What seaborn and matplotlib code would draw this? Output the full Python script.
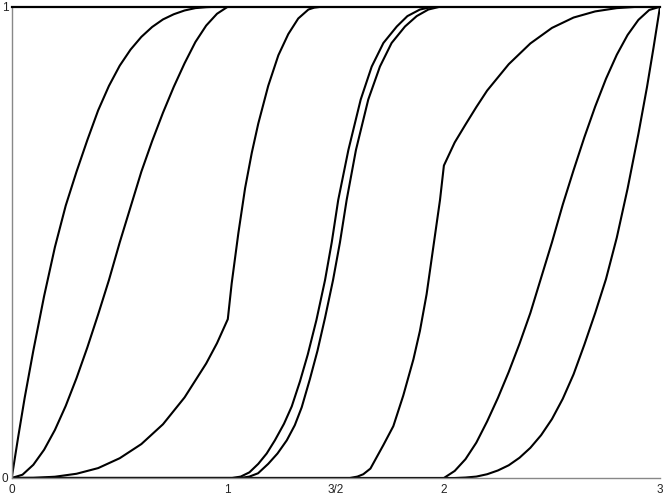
import pandas as pd
import seaborn as sns
import matplotlib.pyplot as plt


# Curves (x in [0, 3], y in [0, 1])
a_x = [0, 0.03, 0.06, 0.1, 0.15, 0.2, 0.25, 0.3, 0.35, 0.4, 0.45, 0.5, 0.55, 0.6, 0.65, 0.7,
       0.75, 0.8, 0.85, 0.9, 0.95, 1.0, 3.0]
a_y = [0, 0.087, 0.17, 0.27, 0.386, 0.49, 0.578, 0.65, 0.717, 0.78, 0.832, 0.875, 0.909, 0.936, 0.957, 0.973,
       0.984, 0.992, 0.997, 0.999, 1.0, 1.0, 1.0]

b_x = [0, 0.05, 0.1, 0.15, 0.2, 0.25, 0.3, 0.35, 0.4, 0.45, 0.5, 0.55, 0.6, 0.65, 0.7, 0.75,
       0.8, 0.85, 0.9, 0.95, 1.0, 3.0]
b_y = [0, 0.007, 0.028, 0.06, 0.102, 0.153, 0.212, 0.277, 0.347, 0.42, 0.5, 0.575, 0.65, 0.715, 0.775, 0.83,
       0.88, 0.925, 0.96, 0.985, 1.0, 1.0]

c_x = [0, 0.1, 0.2, 0.3, 0.4, 0.5, 0.6, 0.7, 0.8, 0.9, 0.95, 1.0, 1.018, 1.049, 1.08, 1.111, 1.141,
       1.187, 1.234, 1.28, 1.326, 1.373, 1.4, 1.435, 3.0]
c_y = [0, 0.0003, 0.0027, 0.009, 0.021, 0.042, 0.072, 0.114, 0.171, 0.243, 0.286, 0.337, 0.413, 0.52, 0.615,
       0.69, 0.752, 0.832, 0.897, 0.942, 0.975, 0.994, 0.998, 1.0, 1.0]

d_x = [0, 1.02, 1.06, 1.1, 1.141, 1.18, 1.218, 1.26, 1.296, 1.334, 1.37, 1.41, 1.45, 1.481, 1.511,
       1.558, 1.615, 1.666, 1.72, 1.782, 1.831, 1.889, 1.95, 3.0]
d_y = [0, 0, 0.003, 0.012, 0.03, 0.052, 0.08, 0.115, 0.152, 0.205, 0.262, 0.335, 0.42, 0.5, 0.59,
       0.696, 0.803, 0.873, 0.923, 0.958, 0.98, 0.994, 1.0, 1.0]

e_x = [0, 1.06, 1.1, 1.14, 1.187, 1.23, 1.273, 1.31, 1.342, 1.38, 1.415, 1.45, 1.487, 1.519, 1.55,
       1.593, 1.65, 1.704, 1.758, 1.82, 1.874, 1.928, 1.982, 3.0]
e_y = [0, 0, 0.003, 0.01, 0.03, 0.052, 0.08, 0.112, 0.15, 0.21, 0.27, 0.34, 0.42, 0.5, 0.59,
       0.696, 0.803, 0.873, 0.923, 0.958, 0.98, 0.994, 1.0, 1.0]

f_x = [0, 1.565, 1.6, 1.627, 1.66, 1.69, 1.72, 1.766, 1.812, 1.859, 1.889, 1.92, 1.951, 1.982, 2.0,
       2.05, 2.1, 2.15, 2.2, 2.3, 2.4, 2.5, 2.6, 2.7, 2.8, 2.9, 3.0]
f_y = [0, 0, 0.003, 0.008, 0.02, 0.045, 0.07, 0.11, 0.175, 0.252, 0.312, 0.39, 0.49, 0.59, 0.663,
       0.712, 0.75, 0.787, 0.822, 0.878, 0.922, 0.955, 0.977, 0.99, 0.997, 1.0, 1.0]

g_x = [0, 2.0, 2.05, 2.1, 2.15, 2.2, 2.25, 2.3, 2.35, 2.4, 2.45, 2.5, 2.55, 2.6, 2.65, 2.7,
       2.75, 2.8, 2.85, 2.9, 2.95, 3.0]
g_y = [0, 0, 0.015, 0.04, 0.075, 0.12, 0.17, 0.225, 0.285, 0.35, 0.425, 0.5, 0.58, 0.653, 0.723, 0.788,
       0.847, 0.898, 0.94, 0.972, 0.993, 1.0]

h_x = [0, 2.0, 2.05, 2.1, 2.15, 2.2, 2.25, 2.3, 2.35, 2.4, 2.45, 2.5, 2.55, 2.6, 2.65, 2.7,
       2.75, 2.8, 2.85, 2.9, 2.94, 2.97, 3.0]
h_y = [0, 0, 0, 0.001, 0.003, 0.008, 0.016, 0.027, 0.043, 0.064, 0.091, 0.125, 0.168, 0.22, 0.283, 0.35,
       0.422, 0.51, 0.614, 0.73, 0.83, 0.913, 1.0]

x_ticks = [0, 1, 1.5, 2, 3]
x_labels = ['0', '1', '3/2', '2', '3']
y_ticks = [0, 1]
y_labels = ['0', '1']

# Long-form table
curves = {'a': (a_x, a_y), 'b': (b_x, b_y), 'c': (c_x, c_y), 'd': (d_x, d_y),
          'e': (e_x, e_y), 'f': (f_x, f_y), 'g': (g_x, g_y), 'h': (h_x, h_y)}
dfs = []
for name, (xs, ys) in curves.items():
    dfs.append(pd.DataFrame({'x': xs, 'y': ys, 'curve': name}))
data = pd.concat(dfs, ignore_index=True)

sns.set_style('white')
plt.rcParams['font.family'] = ['Liberation Sans', 'DejaVu Sans']

fig = plt.figure(figsize=(6.64, 4.98), dpi=100)
ax = fig.add_axes([11.7 / 664, 1 - 478 / 498, (660 - 11.7) / 664, (478 - 6.7) / 498])
sns.lineplot(ax=ax, data=data, x='x', y='y', units='curve', estimator=None, sort=False,
             color='black', linewidth=1.5, legend=False, solid_joinstyle='round')

ax.set_xlim(0, 3)
ax.set_ylim(0, 1)
ax.set_xticks(x_ticks)
ax.set_xticklabels(x_labels)
ax.set_yticks(y_ticks)
ax.set_yticklabels(y_labels)
ax.set_xlabel('')
ax.set_ylabel('')
ax.tick_params(direction='in', length=4.5, width=0.8, color='#777777', labelsize=8.5,
               labelcolor='#222222', pad=2.5)
ax.tick_params(axis='x', pad=4)

for side in ['left', 'bottom']:
    ax.spines[side].set_color('#888888')
    ax.spines[side].set_linewidth(1.0)
ax.spines['right'].set_visible(False)
ax.spines['top'].set_color('black')
ax.spines['top'].set_linewidth(1.6)
for s in ax.spines.values():
    s.set_zorder(3)

fig.savefig('out.png', dpi=100)
